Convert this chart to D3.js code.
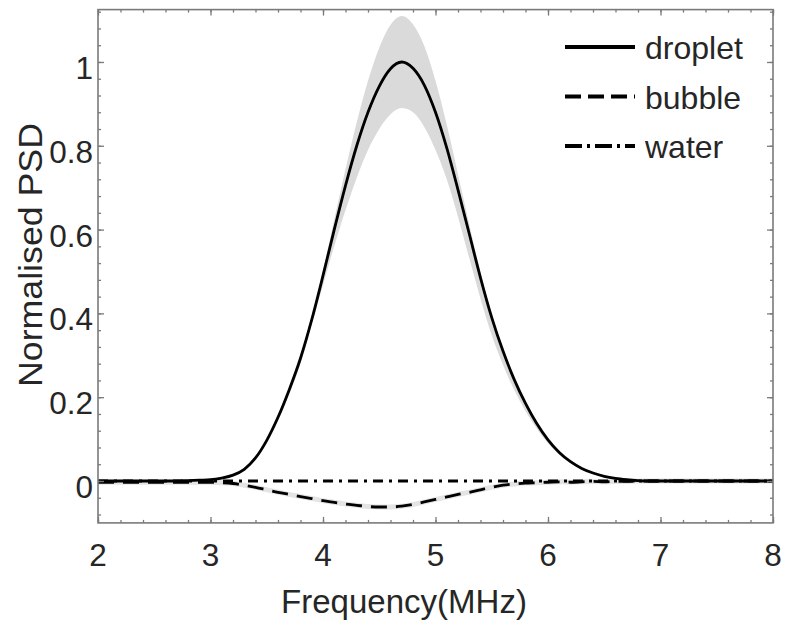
<!DOCTYPE html>
<html><head><meta charset="utf-8">
<script src="https://cdn.jsdelivr.net/npm/d3@7"></script>
<style>
body{margin:0;background:#fff}
svg{display:block}
text{font-family:"Liberation Sans",Arial,Helvetica,sans-serif;fill:#262626}
</style>
</head><body>
<svg id="c" width="785" height="631"></svg>
<script>
// ---- data ----
const frequency = [2.0,2.1,2.2,2.3,2.4,2.5,2.6,2.7,2.8,2.9,
  3.0,3.1,3.2,3.3,3.4,3.5,3.6,3.7,3.8,3.9,
  4.0,4.1,4.2,4.3,4.4,4.5,4.6,4.7,4.8,4.9,
  5.0,5.1,5.2,5.3,5.4,5.5,5.6,5.7,5.8,5.9,
  6.0,6.1,6.2,6.3,6.4,6.5,6.6,6.7,6.8,6.9,
  7.0,7.1,7.2,7.3,7.4,7.5,7.6,7.7,7.8,7.9,8.0];
const droplet = [0,0,0,0,0,0,0,0,0.001,0.002,
  0.003,0.007,0.014,0.028,0.055,0.097,0.152,0.218,0.293,0.385,
  0.49,0.6,0.705,0.8,0.88,0.942,0.984,1.0,0.985,0.945,
  0.88,0.795,0.695,0.59,0.485,0.39,0.31,0.242,0.185,0.137,
  0.098,0.068,0.046,0.03,0.019,0.011,0.006,0.003,0.001,0,
  0,0,0,0,0,0,0,0,0,0,0];
const dropletUpper = [0.002,0.002,0.002,0.002,0.002,0.002,0.002,0.002,0.003,0.004,
  0.005,0.009,0.016,0.031,0.058,0.1,0.155,0.222,0.298,0.391,
  0.503,0.624,0.744,0.856,0.955,1.034,1.089,1.11,1.09,1.038,
  0.955,0.85,0.732,0.613,0.498,0.397,0.313,0.244,0.187,0.139,
  0.1,0.07,0.048,0.032,0.021,0.013,0.008,0.005,0.003,0.002,
  0.002,0.002,0.002,0.002,0.002,0.002,0.002,0.002,0.002,0.002,0.002];
const dropletLower = [-0.002,-0.002,-0.002,-0.002,-0.002,-0.002,-0.002,-0.002,-0.001,0,
  0.001,0.005,0.011,0.024,0.05,0.09,0.143,0.207,0.28,0.374,
  0.467,0.561,0.646,0.724,0.79,0.84,0.875,0.89,0.88,0.845,
  0.79,0.72,0.63,0.532,0.435,0.348,0.277,0.217,0.167,0.125,
  0.09,0.063,0.043,0.028,0.017,0.01,0.005,0.002,0,-0.001,
  -0.002,-0.002,-0.002,-0.002,-0.002,-0.002,-0.002,-0.002,-0.002,-0.002,-0.002];
const bubble = [-0.003,-0.003,-0.003,-0.003,-0.003,-0.003,-0.003,-0.003,-0.003,-0.003,
  -0.003,-0.004,-0.006,-0.01,-0.015,-0.021,-0.027,-0.032,-0.037,-0.042,
  -0.047,-0.051,-0.055,-0.058,-0.061,-0.062,-0.062,-0.06,-0.056,-0.05,
  -0.044,-0.038,-0.032,-0.027,-0.021,-0.015,-0.01,-0.007,-0.005,-0.004,
  -0.003,-0.002,-0.003,-0.002,-0.001,-0.002,-0.001,-0.001,0,0,
  0,0,0,0,0,0,0,0,0,0,0];
const bubbleSpread = 0.006;
const water = [0,0,0,0,0,0,0,0,0,0,0,0,0,0,0,0,0,0,0,0,0,0,0,0,0,0,0,0,0,0,
  0,0,0,0,0,0,0,0,0,0,0,0,0,0,0,0,0,0,0,0,0,0,0,0,0,0,0,0,0,0,0];
const xTicks = [2,3,4,5,6,7,8];
const xTickLabels = ["2","3","4","5","6","7","8"];
const yTicks = [0,0.2,0.4,0.6,0.8,1];
const yTickLabels = ["0","0.2","0.4","0.6","0.8","1"];
const seriesNames = ["droplet","bubble","water"];
const xLabel = "Frequency(MHz)";
const yLabel = "Normalised PSD";

// ---- layout ----
const L = 98, R = 773, T = 9.6, B = 522.9;
const svg = d3.select("#c");
const x = d3.scaleLinear().domain([2, 8]).range([L, R]);
const y = d3.scaleLinear().domain([-0.1, 1.125]).range([B, T]);

svg.append("clipPath").attr("id","clip").append("rect")
  .attr("x", L).attr("y", T).attr("width", R - L).attr("height", B - T);
const plot = svg.append("g").attr("clip-path","url(#clip)");

const idx = frequency.map((f, i) => i);
const bandD = d3.area().curve(d3.curveMonotoneX)
  .x(i => x(frequency[i])).y0(i => y(dropletLower[i])).y1(i => y(dropletUpper[i]));
const bandB = d3.area().curve(d3.curveMonotoneX)
  .x(i => x(frequency[i])).y0(i => y(bubble[i] - bubbleSpread)).y1(i => y(bubble[i] + bubbleSpread));
plot.append("path").attr("d", bandD(idx)).attr("fill", "#dadada");
plot.append("path").attr("d", bandB(idx)).attr("fill", "#e4e4e4");

const mk = arr => d3.line().curve(d3.curveMonotoneX).x(i => x(frequency[i])).y(i => y(arr[i]));
plot.append("path").attr("d", mk(water)(idx)).attr("fill","none").attr("stroke","#000")
  .attr("stroke-width", 2.8).attr("stroke-dasharray", "10,6,3,6");
plot.append("path").attr("d", mk(bubble)(idx)).attr("fill","none").attr("stroke","#000")
  .attr("stroke-width", 2.8).attr("stroke-dasharray", "16,9");
plot.append("path").attr("d", mk(droplet)(idx)).attr("fill","none").attr("stroke","#000")
  .attr("stroke-width", 2.8);

// ---- frame and ticks ----
const frameColor = "#7a7a7a";
const xMinor = d3.range(2, 8.0001, 0.2);
const yMinor = d3.range(-0.08, 1.121, 0.04);
const axB = d3.axisBottom(x).tickValues(xMinor).tickSize(-3).tickFormat("");
const axT = d3.axisTop(x).tickValues(xMinor).tickSize(-3).tickFormat("");
const axL = d3.axisLeft(y).tickValues(yMinor).tickSize(-3).tickFormat("");
const axR = d3.axisRight(y).tickValues(yMinor).tickSize(-3).tickFormat("");
const axBM = d3.axisBottom(x).tickValues(xTicks).tickSize(-6).tickFormat("");
const axTM = d3.axisTop(x).tickValues(xTicks).tickSize(-6).tickFormat("");
const axLM = d3.axisLeft(y).tickValues(yTicks).tickSize(-6).tickFormat("");
const axRM = d3.axisRight(y).tickValues(yTicks).tickSize(-6).tickFormat("");
[[axB,`translate(0,${B})`],[axBM,`translate(0,${B})`],[axT,`translate(0,${T})`],[axTM,`translate(0,${T})`],
 [axL,`translate(${L},0)`],[axLM,`translate(${L},0)`],[axR,`translate(${R},0)`],[axRM,`translate(${R},0)`]]
.forEach(([ax, tr]) => {
  const g = svg.append("g").attr("transform", tr).call(ax);
  g.select(".domain").remove();
  g.selectAll("line").attr("stroke", frameColor).attr("stroke-width", 1.3);
});
svg.append("rect").attr("x", L).attr("y", T).attr("width", R - L).attr("height", B - T)
  .attr("fill","none").attr("stroke", frameColor).attr("stroke-width", 1.6);

// tick labels
svg.append("g").selectAll("text").data(xTicks).join("text")
  .attr("x", d => x(d)).attr("y", 566).attr("text-anchor","middle")
  .attr("font-size", 31.5).text((d, i) => xTickLabels[i]);
svg.append("g").selectAll("text").data(yTicks).join("text")
  .attr("x", 93).attr("y", d => y(d) + 17).attr("text-anchor","end")
  .attr("font-size", 31.5).text((d, i) => yTickLabels[i]);

// axis titles
svg.append("text").attr("x", 404).attr("y", 613).attr("text-anchor","middle")
  .attr("font-size", 33).attr("textLength", 246).attr("lengthAdjust", "spacingAndGlyphs").text(xLabel);
svg.append("text").attr("transform", "translate(42,255) rotate(-90)").attr("text-anchor","middle")
  .attr("font-size", 33).attr("textLength", 264).attr("lengthAdjust", "spacingAndGlyphs").text(yLabel);

// legend
const legDash = ["none", "16,7", "17,5,3,5"];
const legY = [59, 108.5, 158];
const lg = svg.append("g");
seriesNames.forEach((name, i) => {
  lg.append("line").attr("x1", 565).attr("x2", 635).attr("y1", legY[i] - 12).attr("y2", legY[i] - 12)
    .attr("stroke", "#000").attr("stroke-width", 4).attr("stroke-dasharray", legDash[i]);
  lg.append("text").attr("x", 645).attr("y", legY[i]).attr("font-size", 32).text(name);
});
</script>
</body></html>
